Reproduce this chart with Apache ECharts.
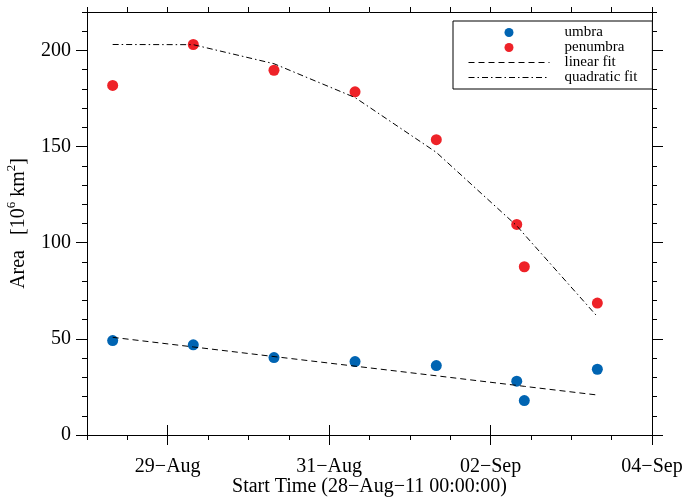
<!DOCTYPE html>
<html>
<head>
<meta charset="utf-8">
<script src="https://cdn.jsdelivr.net/npm/echarts@6/dist/echarts.min.js"></script>
<style>html,body{margin:0;padding:0;background:#fff;}#c{width:685px;height:502px;}</style>
</head>
<body>
<div id="c"></div>
<script>
// ---- data ----
const obsTimes = ['2011-08-28T07:38:00Z','2011-08-29T07:36:00Z','2011-08-30T07:36:00Z','2011-08-31T07:42:00Z',
                  '2011-09-01T07:52:00Z','2011-09-02T07:47:00Z','2011-09-02T10:02:00Z','2011-09-03T07:45:00Z'];
const umbra        = [49.1, 46.9, 40.3, 38.2, 36.1, 28.0, 17.9, 34.2];
const penumbra     = [181.8, 203.1, 189.7, 178.5, 153.6, 109.5, 87.5, 68.6];
const linearFit    = [50.8, 45.8, 40.8, 35.8, 30.8, 25.8, 25.3, 20.8];
const quadraticFit = [203.1, 203.0, 193.1, 175.5, 147.0, 108.8, 104.3, 61.6];
const xTickDates   = ['2011-08-29T00:00:00Z','2011-08-31T00:00:00Z','2011-09-02T00:00:00Z','2011-09-04T00:00:00Z'];
const xTickLabels  = ['29\u2212Aug','31\u2212Aug','02\u2212Sep','04\u2212Sep'];
const yTickValues  = [0, 50, 100, 150, 200];
const xRange       = ['2011-08-28T00:00:00Z','2011-09-04T00:00:00Z'];
const yRange       = [0, 220];

const FONT = 'Liberation Serif';
const HALF_DAY = 43200000;
const t = s => Date.parse(s);
const xs = obsTimes.map(t);
const xMajor = xTickDates.map(t);
const xMin = t(xRange[0]), xMax = t(xRange[1]);
const pair = arr => xs.map((x, i) => [x, arr[i]]);

const lineCol = '#000';
const baseX = {
  type: 'value', min: xMin, max: xMax, interval: HALF_DAY, splitLine: {show: false},
  axisLine: {show: true, onZero: false, lineStyle: {color: lineCol, width: 1}}
};
const minorX = (pos) => Object.assign({}, baseX, {
  position: pos,
  axisTick: {show: true, inside: false, length: 5, lineStyle: {color: lineCol}},
  axisLabel: {show: false}
});
const majorX = (pos, labels) => Object.assign({}, baseX, {
  position: pos,
  axisLine: {show: false},
  axisTick: {show: true, inside: false, length: 10, customValues: xMajor, lineStyle: {color: lineCol}},
  axisLabel: labels ? {
    show: true, customValues: xMajor, margin: 22, fontFamily: FONT, fontSize: 20, color: '#000',
    formatter: v => { const i = xMajor.indexOf(v); return i >= 0 ? xTickLabels[i] : ''; }
  } : {show: false}
});
const baseY = {
  type: 'value', min: yRange[0], max: yRange[1], interval: 10, splitLine: {show: false},
  axisLine: {show: true, onZero: false, lineStyle: {color: lineCol, width: 1}}
};
const minorY = (pos) => Object.assign({}, baseY, {
  position: pos,
  axisTick: {show: true, inside: false, length: 5, lineStyle: {color: lineCol}},
  axisLabel: {show: false}
});
const majorY = (pos, labels) => Object.assign({}, baseY, {
  position: pos,
  axisLine: {show: false},
  axisTick: {show: true, inside: false, length: 11, customValues: yTickValues, lineStyle: {color: lineCol}},
  axisLabel: labels ? {show: true, customValues: yTickValues, margin: 16, fontFamily: FONT, fontSize: 20, color: '#000'} : {show: false}
});

const xAxes = [minorX('bottom'), majorX('bottom', true), minorX('top'), majorX('top', false)];
Object.assign(xAxes[1], {
  name: 'Start Time (28\u2212Aug\u221211 00:00:00)', nameLocation: 'middle', nameGap: 42, nameMoveOverlap: false,
  nameTextStyle: {fontFamily: FONT, fontSize: 20, color: '#000'}
});
const yAxes = [minorY('left'), majorY('left', true), minorY('right'), majorY('right', false)];
Object.assign(yAxes[1], {
  name: 'Area   [10{sup|6} km{sup|2}]', nameLocation: 'middle', nameGap: 54, nameMoveOverlap: false,
  nameTextStyle: {fontFamily: FONT, fontSize: 20, color: '#000', lineHeight: 28,
    rich: {sup: {fontFamily: FONT, fontSize: 13, color: '#000', verticalAlign: 'top', lineHeight: 13}}}
});

const lineLegend = name => ({name, itemStyle: {opacity: 0}, lineStyle: {width: 1}});

const chart = echarts.init(document.getElementById('c'), null, {renderer: 'canvas'});
chart.setOption({
  animation: false,
  backgroundColor: '#fff',
  grid: {left: 87, right: 33, top: 12, bottom: 67, containLabel: false, outerBoundsMode: 'none'},
  xAxis: xAxes,
  yAxis: yAxes,
  legend: {
    orient: 'vertical', left: 453, top: 21, selectedMode: false,
    padding: [4, 15, 4, 15], itemGap: 0, itemWidth: 81, itemHeight: 9,
    borderColor: '#000', borderWidth: 1, backgroundColor: '#fff',
    textStyle: {fontFamily: FONT, fontSize: 15, color: '#000', lineHeight: 15, padding: [0, 0, 0, 10]},
    data: ['umbra', 'penumbra', lineLegend('linear fit'), lineLegend('quadratic fit')]
  },
  series: [
    {name: 'umbra', type: 'scatter', symbol: 'circle', symbolSize: 11, z: 2,
     itemStyle: {color: '#0064b2', opacity: 1}, data: pair(umbra)},
    {name: 'penumbra', type: 'scatter', symbol: 'circle', symbolSize: 11, z: 2,
     itemStyle: {color: '#ee2228', opacity: 1}, data: pair(penumbra)},
    {name: 'linear fit', type: 'line', symbol: 'none', z: 3, color: '#000',
     lineStyle: {color: '#000', width: 1, type: [6, 4]}, data: pair(linearFit)},
    {name: 'quadratic fit', type: 'line', symbol: 'none', z: 3, color: '#000',
     lineStyle: {color: '#000', width: 1, type: [6, 3, 1.5, 3]}, data: pair(quadraticFit)}
  ]
});
</script>
</body>
</html>
